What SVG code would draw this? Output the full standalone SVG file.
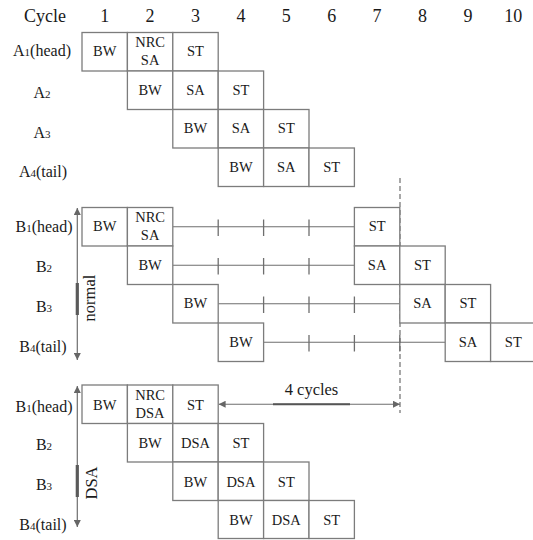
<svg xmlns="http://www.w3.org/2000/svg" width="533" height="540" viewBox="0 0 533 540" font-family="'Liberation Serif', 'Times New Roman', serif">
<defs>
<style>
.bg{fill:#fff}
.cell rect{fill:#fff;stroke:#7c7c7c;stroke-width:1.3}
.cell text{font-family:'Liberation Serif','Times New Roman',serif;font-size:14.5px;fill:#1a1a1a;text-anchor:middle}
.hdr{font-family:'Liberation Serif','Times New Roman',serif;font-size:18px;fill:#1a1a1a;text-anchor:middle}
.lbl{font-family:'Liberation Serif','Times New Roman',serif;font-size:16px;fill:#1a1a1a;text-anchor:middle}
.sub{font-size:11px}
.ln{stroke:#6e6e6e;stroke-width:1.2;fill:none}
.tick{stroke:#6e6e6e;stroke-width:1.3}
.bar{stroke:#5a5a5a;stroke-width:3.2}
.dash{stroke:#6e6e6e;stroke-width:1.2;stroke-dasharray:5,3;fill:none}
.rot{font-family:'Liberation Serif','Times New Roman',serif;font-size:16.5px;fill:#1a1a1a;text-anchor:middle}
</style>
<marker id="ah" viewBox="0 0 10 10" refX="10" refY="5" markerWidth="8" markerHeight="7" markerUnits="userSpaceOnUse" orient="auto-start-reverse">
<path d="M0,0 L10,5 L0,10 Z" fill="#666"/>
</marker>
</defs>
<rect class="bg" x="0" y="0" width="533" height="540"/>

<g id="header">
<text class="hdr" x="45" y="22">Cycle</text>
<text class="hdr" x="104.7" y="22">1</text>
<text class="hdr" x="150.1" y="22">2</text>
<text class="hdr" x="195.5" y="22">3</text>
<text class="hdr" x="240.9" y="22">4</text>
<text class="hdr" x="286.3" y="22">5</text>
<text class="hdr" x="331.7" y="22">6</text>
<text class="hdr" x="377.1" y="22">7</text>
<text class="hdr" x="422.5" y="22">8</text>
<text class="hdr" x="467.9" y="22">9</text>
<text class="hdr" x="513.3" y="22">10</text>
</g>

<g id="row-labels">
<text class="lbl" x="42" y="56">A<tspan class="sub">1</tspan>(head)</text>
<text class="lbl" x="42" y="98">A<tspan class="sub">2</tspan></text>
<text class="lbl" x="42" y="138">A<tspan class="sub">3</tspan></text>
<text class="lbl" x="43" y="177">A<tspan class="sub">4</tspan>(tail)</text>
<text class="lbl" x="44" y="232">B<tspan class="sub">1</tspan>(head)</text>
<text class="lbl" x="44" y="272">B<tspan class="sub">2</tspan></text>
<text class="lbl" x="44" y="312">B<tspan class="sub">3</tspan></text>
<text class="lbl" x="43" y="352">B<tspan class="sub">4</tspan>(tail)</text>
<text class="lbl" x="44" y="412">B<tspan class="sub">1</tspan>(head)</text>
<text class="lbl" x="44" y="450">B<tspan class="sub">2</tspan></text>
<text class="lbl" x="44" y="490">B<tspan class="sub">3</tspan></text>
<text class="lbl" x="43" y="530">B<tspan class="sub">4</tspan>(tail)</text>
</g>

<!-- A section -->
<g id="a1-bw" class="cell"><rect x="82" y="32.5" width="45.4" height="38.5"/><text x="104.7" y="56.25">BW</text></g>
<g id="a1-nrcsa" class="cell"><rect x="127.4" y="32.5" width="45.4" height="38.5"/><text x="150.1" y="46.75">NRC</text><text x="150.1" y="64.75">SA</text></g>
<g id="a1-st" class="cell"><rect x="172.8" y="32.5" width="45.4" height="38.5"/><text x="195.5" y="56.25">ST</text></g>

<g id="a2-bw" class="cell"><rect x="127.4" y="71" width="45.4" height="38.5"/><text x="150.1" y="94.75">BW</text></g>
<g id="a2-sa" class="cell"><rect x="172.8" y="71" width="45.4" height="38.5"/><text x="195.5" y="94.75">SA</text></g>
<g id="a2-st" class="cell"><rect x="218.2" y="71" width="45.4" height="38.5"/><text x="240.9" y="94.75">ST</text></g>

<g id="a3-bw" class="cell"><rect x="172.8" y="109.5" width="45.4" height="38.5"/><text x="195.5" y="133.25">BW</text></g>
<g id="a3-sa" class="cell"><rect x="218.2" y="109.5" width="45.4" height="38.5"/><text x="240.9" y="133.25">SA</text></g>
<g id="a3-st" class="cell"><rect x="263.6" y="109.5" width="45.4" height="38.5"/><text x="286.3" y="133.25">ST</text></g>

<g id="a4-bw" class="cell"><rect x="218.2" y="148" width="45.4" height="38.5"/><text x="240.9" y="171.75">BW</text></g>
<g id="a4-sa" class="cell"><rect x="263.6" y="148" width="45.4" height="38.5"/><text x="286.3" y="171.75">SA</text></g>
<g id="a4-st" class="cell"><rect x="309" y="148" width="45.4" height="38.5"/><text x="331.7" y="171.75">ST</text></g>

<!-- connectors -->
<g id="connectors">
<line class="dash" x1="400" y1="178" x2="400" y2="413"/>
<line class="ln" x1="172.8" y1="226.75" x2="354.4" y2="226.75"/>
<line class="tick" x1="218.2" y1="219.5" x2="218.2" y2="236"/>
<line class="tick" x1="263.6" y1="219.5" x2="263.6" y2="236"/>
<line class="tick" x1="309" y1="219.5" x2="309" y2="236"/>
<line class="ln" x1="172.8" y1="265.25" x2="354.4" y2="265.25"/>
<line class="tick" x1="218.2" y1="258" x2="218.2" y2="274.5"/>
<line class="tick" x1="263.6" y1="258" x2="263.6" y2="274.5"/>
<line class="tick" x1="309" y1="258" x2="309" y2="274.5"/>
<line class="ln" x1="218.2" y1="303.75" x2="399.8" y2="303.75"/>
<line class="tick" x1="263.6" y1="296.5" x2="263.6" y2="313"/>
<line class="tick" x1="309" y1="296.5" x2="309" y2="313"/>
<line class="tick" x1="354.4" y1="296.5" x2="354.4" y2="313"/>
<line class="ln" x1="263.6" y1="342.25" x2="445.2" y2="342.25"/>
<line class="tick" x1="309" y1="335" x2="309" y2="351.5"/>
<line class="tick" x1="354.4" y1="335" x2="354.4" y2="351.5"/>
<line class="tick" x1="399.8" y1="335" x2="399.8" y2="351.5"/>
<line class="ln" x1="77.3" y1="208" x2="77.3" y2="360" marker-start="url(#ah)" marker-end="url(#ah)"/>
<line class="bar" x1="77.3" y1="283" x2="77.3" y2="315"/>
<line class="ln" x1="77.3" y1="386" x2="77.3" y2="527" marker-start="url(#ah)" marker-end="url(#ah)"/>
<line class="bar" x1="77.3" y1="465" x2="77.3" y2="497"/>
<line class="ln" x1="218.6" y1="404.25" x2="400" y2="404.25" marker-start="url(#ah)" marker-end="url(#ah)"/>
<line x1="273" y1="404.25" x2="350" y2="404.25" stroke="#555" stroke-width="1.8"/>
<text class="rot" transform="translate(95,298) rotate(-90)">normal</text>
<text class="rot" transform="translate(96.5,483) rotate(-90)">DSA</text>
<text class="lbl" x="311.5" y="395" style="font-size:16.5px">4 cycles</text>
</g>

<!-- B section (normal) -->
<g id="b1-bw" class="cell"><rect x="82" y="207.5" width="45.4" height="38.5"/><text x="104.7" y="231.25">BW</text></g>
<g id="b1-nrcsa" class="cell"><rect x="127.4" y="207.5" width="45.4" height="38.5"/><text x="150.1" y="221.75">NRC</text><text x="150.1" y="239.75">SA</text></g>
<g id="b1-st" class="cell"><rect x="354.4" y="207.5" width="45.4" height="38.5"/><text x="377.1" y="231.25">ST</text></g>

<g id="b2-bw" class="cell"><rect x="127.4" y="246" width="45.4" height="38.5"/><text x="150.1" y="269.75">BW</text></g>
<g id="b2-sa" class="cell"><rect x="354.4" y="246" width="45.4" height="38.5"/><text x="377.1" y="269.75">SA</text></g>
<g id="b2-st" class="cell"><rect x="399.8" y="246" width="45.4" height="38.5"/><text x="422.5" y="269.75">ST</text></g>

<g id="b3-bw" class="cell"><rect x="172.8" y="284.5" width="45.4" height="38.5"/><text x="195.5" y="308.25">BW</text></g>
<g id="b3-sa" class="cell"><rect x="399.8" y="284.5" width="45.4" height="38.5"/><text x="422.5" y="308.25">SA</text></g>
<g id="b3-st" class="cell"><rect x="445.2" y="284.5" width="45.4" height="38.5"/><text x="467.9" y="308.25">ST</text></g>

<g id="b4-bw" class="cell"><rect x="218.2" y="323" width="45.4" height="38.5"/><text x="240.9" y="346.75">BW</text></g>
<g id="b4-sa" class="cell"><rect x="445.2" y="323" width="45.4" height="38.5"/><text x="467.9" y="346.75">SA</text></g>
<g id="b4-st" class="cell"><rect x="490.6" y="323" width="46" height="38.5"/><text x="513.3" y="346.75">ST</text></g>

<!-- DSA section -->
<g id="d1-bw" class="cell"><rect x="82" y="385" width="45.4" height="38.5"/><text x="104.7" y="409.5">BW</text></g>
<g id="d1-nrcdsa" class="cell"><rect x="127.4" y="385" width="45.4" height="38.5"/><text x="150.1" y="399.5">NRC</text><text x="150.1" y="417.5">DSA</text></g>
<g id="d1-st" class="cell"><rect x="172.8" y="385" width="45.4" height="38.5"/><text x="195.5" y="409.5">ST</text></g>

<g id="d2-bw" class="cell"><rect x="127.4" y="423.5" width="45.4" height="38.5"/><text x="150.1" y="448">BW</text></g>
<g id="d2-dsa" class="cell"><rect x="172.8" y="423.5" width="45.4" height="38.5"/><text x="195.5" y="448">DSA</text></g>
<g id="d2-st" class="cell"><rect x="218.2" y="423.5" width="45.4" height="38.5"/><text x="240.9" y="448">ST</text></g>

<g id="d3-bw" class="cell"><rect x="172.8" y="462" width="45.4" height="38.5"/><text x="195.5" y="486.5">BW</text></g>
<g id="d3-dsa" class="cell"><rect x="218.2" y="462" width="45.4" height="38.5"/><text x="240.9" y="486.5">DSA</text></g>
<g id="d3-st" class="cell"><rect x="263.6" y="462" width="45.4" height="38.5"/><text x="286.3" y="486.5">ST</text></g>

<g id="d4-bw" class="cell"><rect x="218.2" y="500.5" width="45.4" height="38"/><text x="240.9" y="525">BW</text></g>
<g id="d4-dsa" class="cell"><rect x="263.6" y="500.5" width="45.4" height="38"/><text x="286.3" y="525">DSA</text></g>
<g id="d4-st" class="cell"><rect x="309" y="500.5" width="45.4" height="38"/><text x="331.7" y="525">ST</text></g>
</svg>
